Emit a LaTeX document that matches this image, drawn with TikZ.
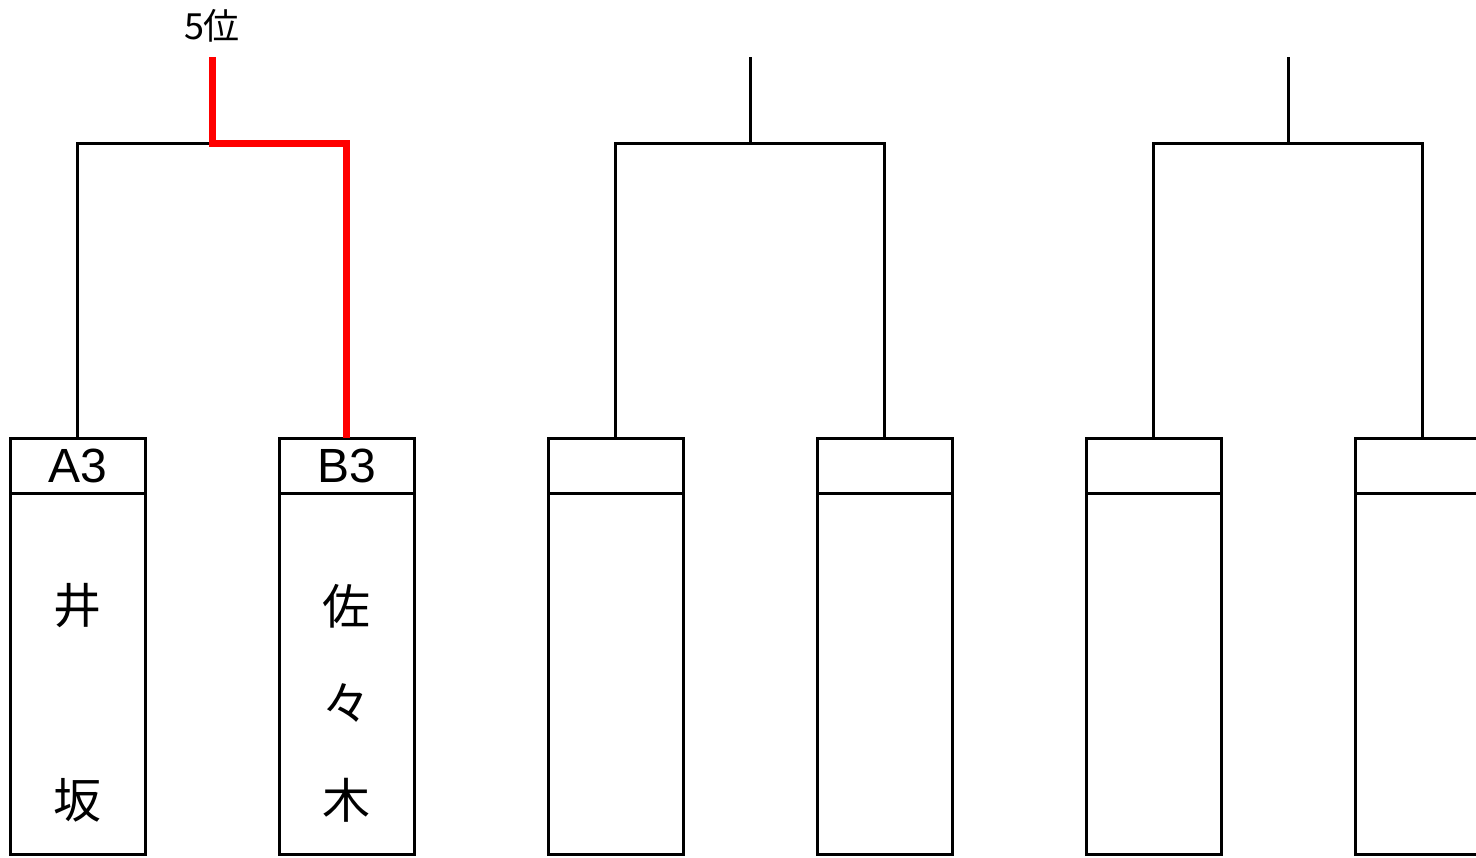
\documentclass[tikz,border=0pt]{standalone}
\usepackage{fontspec}
\setmainfont{Noto Sans CJK JP}
\newfontfamily\latinsans{Liberation Sans}
\usetikzlibrary{positioning,calc}

\begin{document}
\begin{tikzpicture}[x=0.5pt,y=-0.5pt,node distance=67pt,line join=miter,
seedbox/.style={draw,line width=1.5pt,minimum width=67.5pt,outer sep=0pt,
minimum height=27.5pt,inner sep=0pt,font=\latinsans\fontsize{24}{26}\selectfont},
playerbox/.style={draw,line width=1.5pt,minimum width=67.5pt,outer sep=0pt,
minimum height=180.5pt,inner sep=0pt},
kanji/.style={inner sep=0pt,font=\fontsize{24}{28}\selectfont},
ranklabel/.style={inner sep=0pt,font=\fontsize{18}{20}\selectfont},
bracket/.style={line width=1.5pt},
winner/.style={draw=red,line width=3.5pt}]

\useasboundingbox (0,0) rectangle (1476,857);

%seed boxes
\node[seedbox] (S1) at (77.5,465.5) {A3};
\node[seedbox, right=of S1] (S2) {B3};
\node[seedbox, right=of S2] (S3) {};
\node[seedbox, right=of S3] (S4) {};
\node[seedbox, right=of S4] (S5) {};
\node[seedbox, right=of S5] (S6) {};

%name boxes
\node[playerbox, below=0pt of S1] (P1) {};
\node[playerbox, below=0pt of S2] (P2) {};
\node[playerbox, below=0pt of S3] (P3) {};
\node[playerbox, below=0pt of S4] (P4) {};
\node[playerbox, below=0pt of S5] (P5) {};
\node[playerbox, below=0pt of S6] (P6) {};

\node[kanji] (N1a) at ($(P1.north)+(0,113)$) {井};
\node[kanji] (N1b) at ($(P1.north)+(0,307)$) {坂};
\node[kanji] (N2a) at ($(P2.north)+(0,113)$) {佐};
\node[kanji] (N2b) at ($(P2.north)+(0,210)$) {々};
\node[kanji] (N2c) at ($(P2.north)+(0,307)$) {木};

%bracket joints
\coordinate (M1) at ($(S1.north)!0.5!(S2.north)+(0,-295)$);
\coordinate (M2) at ($(S3.north)!0.5!(S4.north)+(0,-295)$);
\coordinate (M3) at ($(S5.north)!0.5!(S6.north)+(0,-295)$);
\coordinate (T1) at ($(M1)+(0,-86)$);
\coordinate (T2) at ($(M2)+(0,-86)$);
\coordinate (T3) at ($(M3)+(0,-86)$);

\node[ranklabel] (R1) at ($(T1)+(0,-31)$) {5位};

%brackets
\draw[bracket] (S1.north) |- (M1);
\draw[bracket] (S3.north) |- (M2) -| (S4.north);
\draw[bracket] (M2) -- (T2);
\draw[bracket] (S5.north) |- (M3) -| (S6.north);
\draw[bracket] (M3) -- (T3);

%winner path
\draw[winner] (S2.north) |- (M1) -- (T1);

\end{tikzpicture}
\end{document}
